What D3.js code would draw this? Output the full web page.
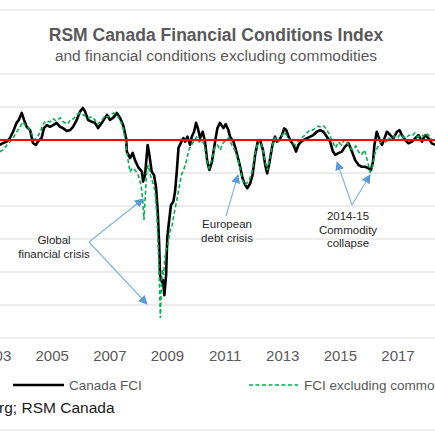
<!DOCTYPE html>
<html><head><meta charset="utf-8">
<script src="https://cdn.jsdelivr.net/npm/d3@7"></script>
<style>body{margin:0;background:#fff}svg{display:block;font-family:"Liberation Sans",Arial,sans-serif}</style>
</head><body><svg id="c" width="435" height="435"></svg>
<script>
const title = "RSM Canada Financial Conditions Index";
const subtitle = "and financial conditions excluding commodities";
const xTickYears = [2003, 2005, 2007, 2009, 2011, 2013, 2015, 2017];
const yGridValues = [2, 1, 0, -1, -2, -3, -4, -5, -6];
const seriesNames = ["Canada FCI", "FCI excluding commodities"];
const sourceText = "Source: Bloomberg; RSM Canada";

const fciYears = [2003.20,2003.32,2003.44,2003.55,2003.66,2003.78,2003.86,2003.96,2004.04,2004.13,2004.25,2004.35,2004.45,2004.52,2004.65,2004.73,2004.83,2004.94,2005.05,2005.17,2005.29,2005.39,2005.52,2005.64,2005.74,2005.87,2005.98,2006.08,2006.16,2006.26,2006.39,2006.50,2006.61,2006.74,2006.85,2006.92,2007.02,2007.13,2007.26,2007.37,2007.48,2007.58,2007.61,2007.72,2007.81,2007.89,2008.00,2008.13,2008.17,2008.24,2008.30,2008.33,2008.38,2008.47,2008.55,2008.62,2008.68,2008.73,2008.76,2008.82,2008.86,2008.91,2008.97,2009.01,2009.07,2009.14,2009.22,2009.28,2009.34,2009.40,2009.48,2009.57,2009.63,2009.71,2009.80,2009.86,2009.94,2010.01,2010.07,2010.15,2010.24,2010.32,2010.40,2010.47,2010.56,2010.67,2010.75,2010.84,2010.96,2011.04,2011.13,2011.19,2011.31,2011.42,2011.54,2011.62,2011.71,2011.79,2011.89,2011.97,2012.06,2012.15,2012.23,2012.33,2012.41,2012.48,2012.56,2012.66,2012.75,2012.81,2012.90,2012.99,2013.07,2013.14,2013.22,2013.31,2013.39,2013.48,2013.56,2013.66,2013.74,2013.85,2013.97,2014.08,2014.20,2014.32,2014.43,2014.55,2014.66,2014.76,2014.84,2014.95,2015.07,2015.18,2015.30,2015.42,2015.53,2015.65,2015.76,2015.88,2015.99,2016.08,2016.15,2016.20,2016.28,2016.36,2016.46,2016.55,2016.63,2016.75,2016.86,2016.98,2017.07,2017.15,2017.27,2017.38,2017.50,2017.61,2017.73,2017.85,2017.96,2018.08,2018.19,2018.31];
const fciValues = [-0.15,-0.09,-0.05,0.06,0.25,0.52,0.61,0.82,0.61,0.40,0.30,-0.09,-0.15,-0.05,0.06,0.36,0.45,0.40,0.45,0.52,0.40,0.36,0.27,0.30,0.40,0.61,0.86,0.97,0.86,0.61,0.55,0.52,0.36,0.52,0.67,0.76,0.61,0.67,0.82,0.67,0.45,0.06,-0.36,-0.55,-0.39,-0.61,-0.82,-0.96,-1.26,-1.06,-0.45,-0.15,-0.39,-0.96,-1.06,-1.42,-2.17,-3.18,-4.09,-4.29,-4.24,-4.70,-4.09,-2.97,-2.48,-1.97,-1.87,-1.57,-0.96,-0.24,-0.09,0.06,-0.05,0.10,-0.15,0.10,0.25,0.52,0.36,0.06,0.25,-0.05,-0.66,-0.91,-0.66,-0.05,0.36,0.52,0.36,0.48,0.30,0.10,-0.05,-0.39,-0.81,-1.15,-1.36,-1.46,-1.31,-1.06,-0.45,-0.05,0.00,-0.30,-0.76,-1.01,-0.66,-0.15,0.10,-0.05,0.00,0.15,0.35,0.30,0.10,-0.05,-0.15,-0.35,-0.15,-0.05,0.00,0.05,0.10,0.15,0.25,0.30,0.25,0.10,-0.05,-0.35,-0.45,-0.40,-0.35,-0.20,-0.10,-0.35,-0.61,-0.76,-0.81,-0.81,-0.86,-0.91,-0.66,-0.15,0.25,0.05,-0.15,0.05,0.25,0.15,0.05,0.25,0.30,0.15,0.00,-0.10,-0.05,0.05,0.15,-0.05,0.15,0.05,-0.10,-0.15];

const exYears = [2003.20,2003.30,2003.45,2003.55,2003.66,2003.78,2003.90,2004.00,2004.10,2004.20,2004.30,2004.40,2004.50,2004.60,2004.70,2004.80,2004.95,2005.05,2005.15,2005.30,2005.40,2005.55,2005.65,2005.75,2005.85,2005.95,2006.05,2006.15,2006.25,2006.40,2006.50,2006.60,2006.75,2006.85,2006.95,2007.05,2007.15,2007.25,2007.37,2007.48,2007.58,2007.65,2007.72,2007.80,2007.90,2008.00,2008.10,2008.16,2008.20,2008.25,2008.30,2008.35,2008.42,2008.50,2008.58,2008.65,2008.70,2008.74,2008.77,2008.80,2008.84,2008.88,2008.92,2008.97,2009.03,2009.10,2009.18,2009.26,2009.34,2009.42,2009.50,2009.60,2009.68,2009.76,2009.85,2009.95,2010.03,2010.12,2010.20,2010.30,2010.38,2010.46,2010.55,2010.65,2010.75,2010.85,2010.95,2011.05,2011.15,2011.25,2011.35,2011.45,2011.55,2011.62,2011.70,2011.78,2011.86,2011.95,2012.05,2012.15,2012.23,2012.33,2012.41,2012.48,2012.56,2012.66,2012.75,2012.85,2012.95,2013.05,2013.15,2013.25,2013.35,2013.45,2013.55,2013.65,2013.75,2013.85,2013.95,2014.05,2014.15,2014.25,2014.35,2014.45,2014.55,2014.65,2014.75,2014.85,2014.95,2015.05,2015.15,2015.25,2015.35,2015.45,2015.55,2015.65,2015.75,2015.85,2015.95,2016.05,2016.12,2016.20,2016.30,2016.40,2016.50,2016.60,2016.70,2016.80,2016.90,2017.00,2017.10,2017.20,2017.30,2017.40,2017.50,2017.60,2017.70,2017.80,2017.90,2018.00,2018.10,2018.20,2018.30];
const exValues = [-0.36,-0.30,-0.15,-0.06,0.06,0.24,0.39,0.55,0.42,0.36,0.21,0.00,0.09,0.24,0.48,0.58,0.55,0.64,0.58,0.67,0.55,0.48,0.61,0.64,0.73,0.82,0.79,0.73,0.67,0.70,0.61,0.48,0.61,0.73,0.70,0.76,0.82,0.76,0.61,0.36,-0.15,-0.61,-0.97,-0.85,-0.91,-1.06,-1.36,-1.82,-2.42,-1.67,-0.91,-0.76,-1.06,-1.27,-1.52,-2.27,-3.33,-4.39,-5.39,-4.55,-3.94,-4.09,-3.64,-3.33,-3.18,-2.79,-2.58,-2.18,-1.82,-1.45,-1.06,-0.85,-0.61,-0.30,-0.15,0.00,0.09,-0.06,0.00,-0.15,-0.61,-0.85,-0.61,-0.24,-0.15,-0.30,-0.09,0.00,0.06,-0.15,-0.30,-0.55,-0.91,-1.21,-1.36,-1.30,-1.21,-0.97,-0.45,-0.09,0.00,-0.30,-0.67,-0.91,-0.61,-0.15,0.06,-0.06,0.06,0.24,0.15,0.00,-0.09,-0.15,-0.06,0.06,0.12,0.21,0.30,0.30,0.36,0.42,0.39,0.42,0.30,0.15,-0.06,-0.24,-0.06,-0.15,0.00,-0.06,-0.24,-0.30,-0.18,-0.36,-0.45,-0.30,-0.61,-0.97,-0.85,-0.45,-0.24,-0.09,0.00,-0.06,0.06,0.00,0.12,0.06,0.18,0.09,0.06,0.15,0.12,0.21,0.09,0.15,0.12,0.21,0.12,0.00,-0.06];

const svg = d3.select("#c");
const x = d3.scaleLinear().domain([2005, 2017]).range([51.7, 397.5]);
const y = d3.scaleLinear().domain([-6, 2]).range([338, 74]);

// frame lines
svg.selectAll("line.frame").data([10, 430]).join("line").attr("class","frame")
  .attr("x1",0).attr("x2",435).attr("y1",d=>d).attr("y2",d=>d)
  .attr("stroke","#d9d9d9").attr("stroke-width",1.2);

// gridlines
svg.append("g").selectAll("line").data(yGridValues).join("line")
  .attr("x1",0).attr("x2",435).attr("y1",d=>y(d)).attr("y2",d=>y(d))
  .attr("stroke","#d9d9d9").attr("stroke-width",1.2);

// titles
svg.append("text").attr("x",216).attr("y",41).attr("text-anchor","middle")
  .attr("font-size",17.5).attr("font-weight","bold").attr("fill","#595959").text(title);
svg.append("text").attr("x",216).attr("y",61).attr("text-anchor","middle")
  .attr("font-size",15.5).attr("fill","#595959").text(subtitle);

// x axis
const xAxis = d3.axisBottom(x).tickValues(xTickYears).tickFormat(d3.format("d")).tickSize(0).tickPadding(0);
const gx = svg.append("g").attr("transform",`translate(0,${y(-6)})`).call(xAxis);
gx.select(".domain").remove();
gx.selectAll("text").attr("font-size",15).attr("fill","#595959")
  .attr("font-family","Liberation Sans, Arial, sans-serif").attr("dy",null).attr("y",23);

// lines
const lineGen = d3.line().x(d=>x(d[0])).y(d=>y(d[1]));
const fciData = fciYears.map((t,i)=>[t,fciValues[i]]);
const exData = exYears.map((t,i)=>[t,exValues[i]]);
svg.append("path").datum(fciData).attr("d",lineGen).attr("fill","none")
  .attr("stroke","#000").attr("stroke-width",2.6).attr("stroke-linejoin","round");
svg.append("path").datum(exData).attr("d",lineGen).attr("fill","none")
  .attr("stroke","#00b050").attr("stroke-width",1.6).attr("stroke-dasharray","4,2.5");

// zero line
svg.append("line").attr("x1",0).attr("x2",435).attr("y1",y(0)).attr("y2",y(0))
  .attr("stroke","#ff0000").attr("stroke-width",2);

// arrows
const defs = svg.append("defs");
defs.append("marker").attr("id","ah").attr("viewBox","0 0 10 10").attr("refX",9).attr("refY",5)
  .attr("markerWidth",9).attr("markerHeight",9).attr("markerUnits","userSpaceOnUse").attr("orient","auto")
  .append("path").attr("d","M0,0 L10,5 L0,10 Z").attr("fill","#5b9bd5");
const arrows = [[89,242,143,199],[89,242,147,304],[226,216,238,175],[352,205,337,162],[352,205,370,175]];
svg.append("g").selectAll("line").data(arrows).join("line")
  .attr("x1",d=>d[0]).attr("y1",d=>d[1]).attr("x2",d=>d[2]).attr("y2",d=>d[3])
  .attr("stroke","#7fb0e0").attr("stroke-width",1.1).attr("marker-end","url(#ah)");

// annotations
const notes = [
  {x:54, lines:["Global","financial crisis"], y0:244},
  {x:227, lines:["European","debt crisis"], y0:228},
  {x:348, lines:["2014-15","Commodity","collapse"], y0:220}
];
notes.forEach(n=>{
  n.lines.forEach((l,i)=>{
    svg.append("text").attr("x",n.x).attr("y",n.y0+i*13.5).attr("text-anchor","middle")
      .attr("font-size",11.5).attr("fill","#262626").text(l);
  });
});

// legend
svg.append("line").attr("x1",13).attr("x2",64).attr("y1",385).attr("y2",385)
  .attr("stroke","#000").attr("stroke-width",2.6);
svg.append("text").attr("x",69).attr("y",390).attr("font-size",13.5).attr("fill","#595959").text(seriesNames[0]);
svg.append("line").attr("x1",249).attr("x2",298).attr("y1",385).attr("y2",385)
  .attr("stroke","#00b050").attr("stroke-width",1.6).attr("stroke-dasharray","4,2.5");
svg.append("text").attr("x",304).attr("y",390).attr("font-size",13.5).attr("fill","#595959").text(seriesNames[1]);

// source
svg.append("text").attr("x",114.5).attr("y",413).attr("text-anchor","end")
  .attr("font-size",15.5).attr("fill","#1a1a1a").text(sourceText);
</script></body></html>
